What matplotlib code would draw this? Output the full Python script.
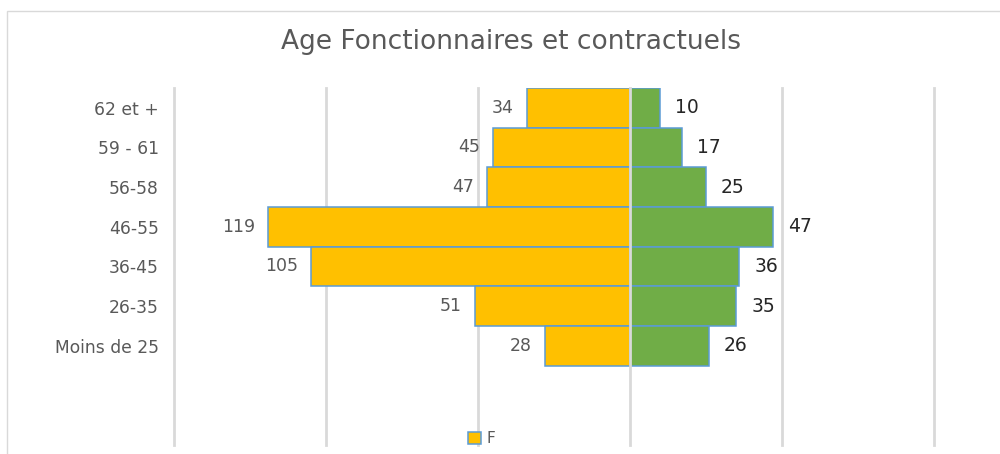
import matplotlib
matplotlib.use("Agg")
import matplotlib.pyplot as plt
import numpy as np
from matplotlib.patches import Rectangle, Patch

categories = ["62 et +", "59 - 61", "56-58", "46-55", "36-45", "26-35", "Moins de 25"]
f_values = [34, 45, 47, 119, 105, 51, 28]
m_values = [10, 17, 25, 47, 36, 35, 26]
grid_values = [-150, -100, -50, 0, 50, 100]
title = "Age Fonctionnaires et contractuels"

plt.rcParams['font.family'] = ['DejaVu Sans']

fig = plt.figure(figsize=(10, 4.54), dpi=100)
# outer frame
fig.patches.append(Rectangle((0.007, -0.2), 1.2, 1.1758, transform=fig.transFigure,
                             fill=False, edgecolor='#D9D9D9', linewidth=1.0))
ax = fig.add_axes([0.174, 0.0198, 0.760, 0.7864])

y = np.arange(len(categories))
edge = '#5B9BD5'
ax.barh(y, [-v for v in f_values], height=1.0, color='#FFC000', edgecolor=edge, linewidth=1.1, zorder=3, label='F')
ax.barh(y, m_values, height=1.0, color='#70AD47', edgecolor=edge, linewidth=1.1, zorder=3, label='M')

ax.set_xlim(-150, 100)
ax.set_ylim(8.5, -0.5)
ax.set_xticks([])
for gv in grid_values:
    ax.axvline(gv, color='#D9D9D9', linewidth=2.0, zorder=0 if gv != 0 else 4, clip_on=False)
for s in ax.spines.values():
    s.set_visible(False)
ax.set_yticks(y)
ax.set_yticklabels(categories, color='#595959', fontsize=12.3)
ax.tick_params(axis='y', length=0, pad=11)

for yi, v in zip(y, f_values):
    ax.annotate(str(v), (-v, yi), xytext=(-13, 0), textcoords='offset pixels',
                ha='right', va='center', fontsize=12.5, color='#595959')
for yi, v in zip(y, m_values):
    ax.annotate(str(v), (v, yi), xytext=(15, 0), textcoords='offset pixels',
                ha='left', va='center', fontsize=13.5, color='#262626')

fig.text(0.511, 0.907, title, ha='center', va='center', fontsize=19, color='#595959')

handles = [Patch(facecolor='#FFC000', edgecolor=edge, linewidth=1.1)]
fig.legend(handles, ['F'], loc='center', bbox_to_anchor=(0.482, 0.034), frameon=False,
           fontsize=11, labelcolor='#595959', handlelength=0.8, handleheight=0.8, handletextpad=0.4)

fig.savefig('out.png', dpi=100, facecolor='white')
